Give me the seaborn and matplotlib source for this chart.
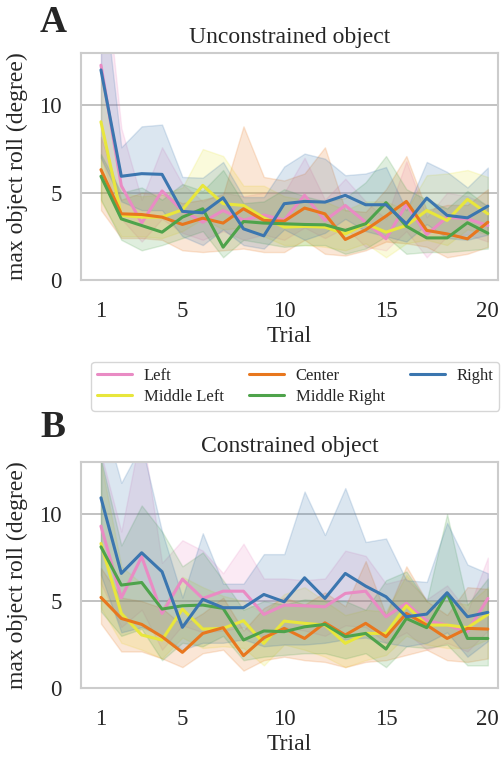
import numpy as np
import pandas as pd
import matplotlib
matplotlib.use("Agg")
import matplotlib.pyplot as plt
import seaborn as sns

sns.set_theme(style="whitegrid")
plt.rcParams['font.family'] = ['Liberation Serif', 'DejaVu Serif']

trials = list(range(1, 21))
positions = ['Left', 'Middle Left', 'Center', 'Middle Right', 'Right']
colors = ['#e98bc4', '#e8e63c', '#e8771e', '#4ea34b', '#3b76af']

# ---- A: unconstrained object (mean, lower CI, upper CI) ----
unc_left = [12.3, 5.4, 3.26, 5.1, 3.98, 3.31, 3.98, 3.43, 3.72, 3.43,
            4.85, 3.41, 4.27, 3.31, 2.36, 4.33, 2.6, 3.6, 3.5, 3.12]
unc_left_lo = [7.0, 3.5, 2.2, 3.5, 2.7, 2.3, 2.8, 2.3, 2.6, 2.3,
               3.0, 2.4, 3.0, 1.9, 1.7, 2.8, 1.3, 2.5, 2.6, 2.2]
unc_left_hi = [20.0, 8.7, 4.6, 7.6, 5.5, 4.5, 5.0, 4.8, 5.0, 5.0,
               7.0, 4.6, 5.8, 4.5, 3.5, 6.8, 3.6, 5.0, 4.8, 4.3]

unc_mleft = [9.06, 3.7, 3.6, 3.6, 4.02, 5.42, 4.37, 4.27, 3.56, 3.03,
             3.07, 3.03, 2.64, 3.22, 2.74, 3.12, 3.98, 3.41, 4.62, 3.79]
unc_mleft_lo = [4.5, 2.5, 2.5, 2.4, 2.8, 3.5, 2.9, 3.0, 2.5, 2.0,
                2.0, 1.9, 1.7, 2.1, 1.3, 2.1, 2.3, 2.0, 2.9, 2.6]
unc_mleft_hi = [12.0, 5.0, 4.8, 4.9, 5.3, 7.5, 7.1, 5.4, 5.4, 4.8,
                4.6, 4.5, 4.0, 4.5, 4.5, 4.0, 6.0, 6.1, 6.3, 5.9]

unc_center = [6.32, 3.79, 3.75, 3.6, 3.18, 3.54, 3.26, 4.08, 3.41, 3.37,
              4.12, 3.79, 2.32, 2.87, 3.66, 4.5, 2.84, 2.64, 2.36, 3.31]
unc_center_lo = [4.0, 2.4, 2.4, 2.3, 1.7, 1.6, 1.7, 1.8, 1.6, 1.6,
                 2.3, 1.5, 1.4, 1.7, 2.2, 2.1, 1.9, 1.3, 1.5, 1.9]
unc_center_hi = [8.2, 4.6, 5.0, 4.9, 4.4, 4.6, 4.9, 8.8, 5.9, 5.7,
                 6.1, 7.6, 4.0, 3.9, 5.2, 7.1, 4.0, 4.3, 4.3, 5.2]

unc_mright = [5.94, 3.5, 3.12, 2.74, 3.6, 4.08, 1.88, 3.35, 3.26, 3.22,
              3.18, 3.16, 2.84, 3.22, 4.43, 3.08, 2.41, 2.41, 3.28, 2.68]
unc_mright_lo = [4.6, 2.3, 1.7, 2.0, 2.4, 2.8, 1.3, 2.3, 2.1, 1.9,
                 2.0, 2.0, 1.5, 1.8, 2.5, 1.5, 1.6, 1.6, 1.7, 1.8]
unc_mright_hi = [7.2, 5.0, 5.3, 4.6, 5.5, 5.1, 6.3, 4.4, 4.5, 5.2,
                 4.8, 4.5, 4.7, 5.6, 7.1, 5.2, 4.6, 4.1, 5.1, 4.2]

unc_right = [12.03, 5.94, 6.09, 6.05, 3.93, 3.85, 4.71, 2.93, 2.53, 4.37,
             4.5, 4.46, 4.85, 4.31, 4.31, 3.22, 4.69, 3.7, 3.56, 4.23]
unc_right_lo = [7.0, 4.5, 4.0, 4.0, 2.5, 2.0, 2.9, 2.0, 1.8, 2.9,
                2.3, 2.7, 3.5, 2.8, 2.5, 2.2, 3.2, 2.4, 2.3, 2.6]
unc_right_hi = [18.0, 7.6, 8.8, 8.9, 5.9, 5.86, 6.76, 4.75, 4.75, 6.5,
                7.24, 6.95, 6.0, 6.1, 6.47, 4.0, 6.76, 6.19, 5.3, 6.44]

# ---- B: constrained object ----
con_left = [9.31, 5.19, 7.55, 4.29, 6.26, 5.15, 5.57, 5.57, 4.23, 4.77,
            4.73, 4.67, 5.44, 5.57, 4.1, 4.87, 3.87, 3.62, 3.24, 5.15]
con_left_lo = [6.0, 3.5, 4.5, 2.2, 3.6, 3.2, 3.3, 3.5, 2.7, 3.5,
               3.3, 3.0, 3.6, 3.5, 2.6, 3.2, 2.2, 2.6, 2.1, 3.3]
con_left_hi = [13.5, 9.0, 15.0, 7.2, 8.5, 7.9, 6.6, 8.3, 6.3, 6.3,
               6.2, 6.3, 7.9, 7.6, 6.0, 6.3, 5.1, 5.9, 4.4, 7.5]

con_mleft = [8.31, 4.29, 3.05, 2.76, 4.54, 3.39, 3.43, 3.87, 2.57, 3.85,
             3.72, 3.62, 2.57, 3.14, 3.14, 4.73, 3.62, 3.62, 3.47, 4.23]
con_mleft_lo = [4.6, 2.6, 2.2, 1.7, 2.9, 2.3, 2.4, 2.3, 1.3, 2.5,
                2.2, 1.8, 1.2, 1.6, 1.9, 3.0, 2.5, 2.3, 2.3, 2.8]
con_mleft_hi = [13.0, 7.0, 6.0, 4.6, 6.4, 5.8, 5.3, 5.0, 4.3, 5.4,
                5.8, 5.0, 4.2, 4.5, 4.4, 6.5, 5.0, 5.0, 4.8, 5.8]

con_center = [5.21, 4.0, 3.66, 2.95, 2.05, 3.14, 3.47, 1.86, 2.89, 3.43,
              2.85, 3.75, 3.05, 3.72, 2.95, 4.29, 3.62, 2.85, 3.43, 3.39]
con_center_lo = [3.7, 2.1, 2.1, 1.7, 1.2, 2.0, 2.2, 1.0, 1.6, 1.8,
                 1.6, 1.5, 1.2, 1.5, 1.6, 1.9, 2.2, 1.6, 1.5, 1.7]
con_center_hi = [6.9, 5.2, 5.0, 4.6, 3.6, 4.3, 5.2, 3.3, 4.6, 5.2,
                 4.8, 5.5, 4.7, 7.3, 4.2, 7.0, 5.0, 4.2, 5.8, 5.7]

con_mright = [8.12, 5.92, 6.07, 4.54, 4.73, 4.77, 4.58, 2.76, 3.28, 3.24,
              3.52, 3.66, 2.95, 3.14, 2.24, 4.0, 3.47, 5.44, 2.85, 2.85]
con_mright_lo = [4.4, 3.0, 3.4, 1.6, 2.6, 2.4, 3.0, 1.6, 1.8, 1.9,
                 2.0, 2.0, 1.7, 2.0, 1.2, 2.4, 2.3, 2.5, 1.3, 1.3]
con_mright_hi = [13.2, 8.2, 10.5, 9.0, 7.0, 7.8, 6.2, 4.5, 5.0, 4.8,
                 5.1, 5.0, 5.0, 4.5, 6.2, 6.7, 5.0, 10.0, 4.8, 6.3]

con_right = [10.94, 6.59, 7.78, 6.69, 3.49, 5.1, 4.62, 4.62, 5.38, 4.96,
             6.34, 5.15, 6.59, 5.86, 5.25, 4.1, 4.25, 5.48, 4.1, 4.35]
con_right_lo = [6.5, 3.2, 3.5, 3.0, 2.2, 2.6, 2.6, 2.8, 2.4, 2.5,
                2.5, 2.6, 2.8, 2.9, 2.6, 2.4, 2.6, 3.2, 1.8, 2.7]
con_right_hi = [16.0, 11.8, 14.0, 9.0, 5.2, 8.9, 6.0, 6.0, 7.7, 7.7,
                11.3, 8.8, 11.5, 8.4, 8.6, 6.2, 6.1, 9.5, 7.1, 6.6]

unconstrained = {
    'Left': (unc_left, unc_left_lo, unc_left_hi),
    'Middle Left': (unc_mleft, unc_mleft_lo, unc_mleft_hi),
    'Center': (unc_center, unc_center_lo, unc_center_hi),
    'Middle Right': (unc_mright, unc_mright_lo, unc_mright_hi),
    'Right': (unc_right, unc_right_lo, unc_right_hi),
}
constrained = {
    'Left': (con_left, con_left_lo, con_left_hi),
    'Middle Left': (con_mleft, con_mleft_lo, con_mleft_hi),
    'Center': (con_center, con_center_lo, con_center_hi),
    'Middle Right': (con_mright, con_mright_lo, con_mright_hi),
    'Right': (con_right, con_right_lo, con_right_hi),
}
palette = dict(zip(positions, colors))


def draw_panel(ax, data, title, zero_line=False):
    rows = []
    for pos in positions:
        mean, lo, hi = data[pos]
        ax.fill_between(trials, lo, hi, color=palette[pos], alpha=0.18,
                        linewidth=1.0, edgecolor=palette[pos])
        for t, m in zip(trials, mean):
            rows.append({'Trial': t, 'roll': m, 'Position': pos})
    df = pd.DataFrame(rows)
    sns.lineplot(data=df, x='Trial', y='roll', hue='Position',
                 hue_order=positions, palette=palette, linewidth=2.2,
                 errorbar=None, ax=ax, legend=False)
    if zero_line:
        ax.plot([trials[0], trials[-1]], [0, 0], ls='--', color='#888888',
                lw=1.2, dashes=(5, 4))
    ax.set_xlim(0.02, 20.5)
    ax.set_ylim(0, 13)
    ax.set_xticks([1, 5, 10, 15, 20])
    ax.set_yticks([0, 5, 10])
    ax.grid(axis='x', visible=False)
    ax.grid(axis='y', color='#b8b8b8', lw=1.2)
    for s in ax.spines.values():
        s.set_color('#cccccc')
        s.set_linewidth(1.5)
    ax.tick_params(axis='x', labelsize=16.5, pad=9)
    ax.tick_params(axis='y', labelsize=16.5, pad=8)
    ax.set_xlabel('Trial', fontsize=17, labelpad=3)
    ax.set_ylabel('max object roll (degree)', fontsize=17, labelpad=8)
    ax.set_title(title, fontsize=17, pad=7)


fig = plt.figure(figsize=(5.02, 7.62), dpi=100)
ax1 = fig.add_axes([81 / 502, 1 - 280 / 762, 417 / 502, 227 / 762])
ax2 = fig.add_axes([81 / 502, 1 - 688 / 762, 417 / 502, 226 / 762])

draw_panel(ax1, unconstrained, 'Unconstrained object', zero_line=True)
draw_panel(ax2, constrained, 'Constrained object')

handles = [plt.Line2D([], [], color=palette[p], lw=2.2) for p in positions]
fig.legend(handles, positions, ncol=3, loc='upper right',
           bbox_to_anchor=(499 / 502, 1 - 362 / 762), fontsize=12,
           frameon=True, edgecolor='#cccccc', columnspacing=1.5,
           handlelength=2.1, handletextpad=0.7, borderpad=0.35,
           labelspacing=0.3, borderaxespad=0)

fig.text(53 / 502, 1 - 22 / 762, 'A', fontsize=27, fontweight='bold',
         ha='center', va='center')
fig.text(53 / 502, 1 - 427 / 762, 'B', fontsize=27, fontweight='bold',
         ha='center', va='center')

fig.savefig('out.png', dpi=100)
